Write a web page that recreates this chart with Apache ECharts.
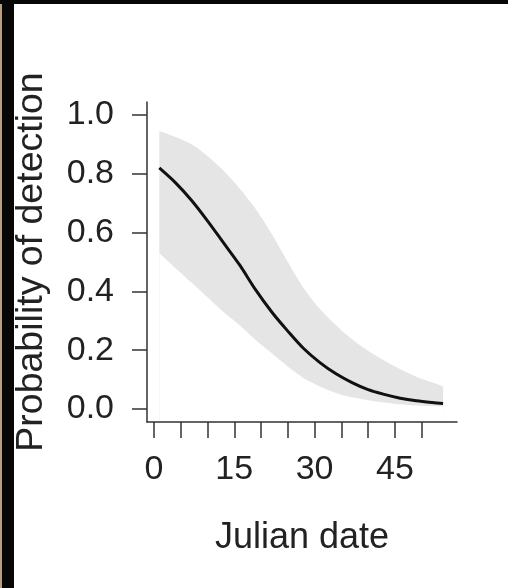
<!DOCTYPE html>
<html>
<head>
<meta charset="utf-8">
<script src="https://cdn.jsdelivr.net/npm/echarts@6/dist/echarts.min.js"></script>
<style>
  html, body { margin: 0; padding: 0; background: #fff; }
  .frame-left { position: absolute; left: 0; top: 0; width: 12px; height: 588px; background: #070707; border-left: 2px solid #b89f80; }
  .frame-top { position: absolute; left: 0; top: 0; width: 508px; height: 4px; background: #070707; }
  #chart { position: absolute; left: 0; top: 0; width: 508px; height: 588px; }
</style>
</head>
<body>
<div class="frame-left"></div>
<div class="frame-top"></div>
<div id="chart"></div>
<script>
// 数据
const dates = [1, 4, 7, 10, 13, 16, 19, 22, 25, 28, 31, 34, 37, 40, 43, 46, 49, 52, 54];
const meanProb = [0.82, 0.77, 0.71, 0.64, 0.565, 0.49, 0.405, 0.33, 0.265, 0.205, 0.158, 0.12, 0.09, 0.066, 0.05, 0.037, 0.028, 0.022, 0.019];
const upperProb = [0.945, 0.925, 0.9, 0.86, 0.81, 0.75, 0.68, 0.595, 0.5, 0.41, 0.34, 0.285, 0.237, 0.198, 0.165, 0.135, 0.11, 0.09, 0.078];
const lowerProb = [0.53, 0.48, 0.43, 0.38, 0.33, 0.285, 0.235, 0.19, 0.145, 0.105, 0.077, 0.055, 0.04, 0.03, 0.022, 0.016, 0.012, 0.01, 0.009];
const xTicks = [0, 5, 10, 15, 20, 25, 30, 35, 40, 45, 50];
const xLabels = [0, 15, 30, 45];
const yTicks = [0, 0.2, 0.4, 0.6, 0.8, 1.0];

const font = 'Liberation Sans, Arial, sans-serif';
const axisColor = '#333';

const chart = echarts.init(document.getElementById('chart'));
const option = {
  animation: false,
  grid: { left: 147, top: 102, right: 51, bottom: 166 },
  xAxis: {
    type: 'value',
    min: -1.3,
    max: 56.6,
    z: 5, // 轴线画在白色填充之上
    name: 'Julian date',
    nameLocation: 'middle',
    nameGap: 98,
    nameTextStyle: { fontSize: 36, color: '#222', fontFamily: font },
    axisLine: { onZero: false, lineStyle: { color: axisColor, width: 1.5 } },
    axisTick: { length: 16, customValues: xTicks, lineStyle: { color: axisColor, width: 1.5 } },
    axisLabel: { customValues: xLabels, fontSize: 34, margin: 31, color: '#222', fontFamily: font },
    splitLine: { show: false },
  },
  yAxis: {
    type: 'value',
    min: -0.044,
    max: 1.044,
    z: 5,
    name: 'Probability of detection',
    nameLocation: 'middle',
    nameRotate: 90,
    nameGap: 96,
    nameTextStyle: { fontSize: 37.5, color: '#222', fontFamily: font },
    axisLine: { show: true, onZero: false, lineStyle: { color: axisColor, width: 1.5 } },
    axisTick: { show: true, length: 15, customValues: yTicks, lineStyle: { color: axisColor, width: 1.5 } },
    axisLabel: {
      customValues: yTicks, fontSize: 34, margin: 33, color: '#222', fontFamily: font,
      formatter: (v) => v.toFixed(1),
    },
    splitLine: { show: false },
  },
  series: [
    {
      // 置信区间上界，向下填充灰色
      type: 'line',
      data: dates.map((d, i) => [d, upperProb[i]]),
      symbol: 'none',
      smooth: 0.3,
      lineStyle: { opacity: 0 },
      areaStyle: { color: '#e5e5e5', opacity: 1, origin: 'start' },
    },
    {
      // 置信区间下界，向下填充白色，留出区间带
      type: 'line',
      data: dates.map((d, i) => [d, lowerProb[i]]),
      symbol: 'none',
      smooth: 0.3,
      lineStyle: { opacity: 0 },
      areaStyle: { color: '#fff', opacity: 1, origin: 'start' },
    },
    {
      // 均值曲线
      type: 'line',
      data: dates.map((d, i) => [d, meanProb[i]]),
      symbol: 'none',
      smooth: 0.3,
      lineStyle: { color: '#111', width: 3 },
    },
  ],
};
chart.setOption(option);
</script>
</body>
</html>
